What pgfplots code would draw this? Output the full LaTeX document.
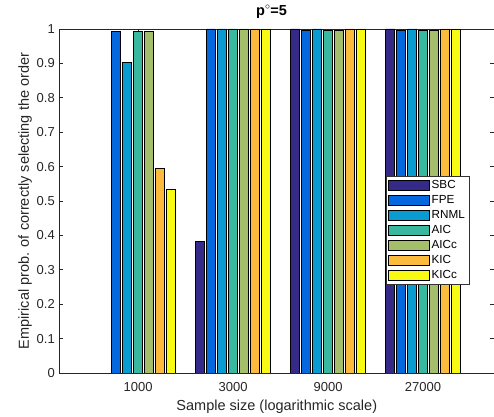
\documentclass[border=0pt]{standalone}
\usepackage{fontspec}
\setmainfont{Liberation Sans}
\usepackage{pgfplots}
\pgfplotsset{compat=1.18}
\definecolor{cSBC}{RGB}{53,42,135}
\definecolor{cFPE}{RGB}{5,104,222}
\definecolor{cRNML}{RGB}{10,155,208}
\definecolor{cAIC}{RGB}{56,184,158}
\definecolor{cAICc}{RGB}{165,190,107}
\definecolor{cKIC}{RGB}{252,187,61}
\definecolor{cKICc}{RGB}{249,250,19}
\begin{document}
\begin{tikzpicture}
\begin{axis}[
  at={(0,0)}, anchor=south west,
  scale only axis, width=435bp, height=344bp,
  xmin=-0.83, xmax=3.75, ymin=0, ymax=1,
  xtick={0,1,2,3}, xticklabels={1000,3000,9000,27000},
  ytick={0,0.1,0.2,0.3,0.4,0.5,0.6,0.7,0.8,0.9,1},
  yticklabels={0,0.1,0.2,0.3,0.4,0.5,0.6,0.7,0.8,0.9,1},
  tick align=inside, major tick length=4bp,
  axis line style={line width=0.6pt, black!85},
  tick style={line width=0.6pt, black!85},
  tick label style={font=\fontsize{13bp}{15bp}\selectfont, text=black!85},
  xticklabel style={yshift=-6bp},
  yticklabel style={xshift=-1bp},
  label style={font=\fontsize{14.5bp}{17bp}\selectfont, text=black!85},
  xlabel={Sample size (logarithmic scale)},
  ylabel={Empirical prob. of correctly selecting the order},
  xlabel style={yshift=-1bp},
  ylabel style={yshift=-2bp},
  title={\textbf{p$^{\circ}$=5}},
  title style={font=\fontsize{14.5bp}{17bp}\selectfont, at={(0.488,1)}, anchor=base, yshift=8bp},
  bar width=0.095,
  legend style={at={(0.942,0.573)}, anchor=north east, draw=black!80, line width=0.5pt,
    font=\fontsize{11.7bp}{14bp}\selectfont, inner xsep=2bp, inner ysep=2bp,
    nodes={inner ysep=1bp, text height=9bp, text depth=3bp}, row sep=1bp},
  legend cell align=left,
  legend image code/.code={\draw[#1, line width=0.6pt] (0bp,-5bp) rectangle (41bp,5bp);},
]
\addplot[ybar, bar shift=-0.348, fill=cSBC, draw=black, line width=0.6pt] coordinates {(0,0) (1,0.382) (2,1) (3,1)};
\addplot[ybar, bar shift=-0.232, fill=cFPE, draw=black, line width=0.6pt] coordinates {(0,0.993) (1,1) (2,0.996) (3,0.996)};
\addplot[ybar, bar shift=-0.116, fill=cRNML, draw=black, line width=0.6pt] coordinates {(0,0.903) (1,1) (2,1) (3,1)};
\addplot[ybar, bar shift=0, fill=cAIC, draw=black, line width=0.6pt] coordinates {(0,0.992) (1,1) (2,0.996) (3,0.996)};
\addplot[ybar, bar shift=0.116, fill=cAICc, draw=black, line width=0.6pt] coordinates {(0,0.992) (1,1) (2,0.996) (3,0.996)};
\addplot[ybar, bar shift=0.232, fill=cKIC, draw=black, line width=0.6pt] coordinates {(0,0.595) (1,1) (2,1) (3,1)};
\addplot[ybar, bar shift=0.348, fill=cKICc, draw=black, line width=0.6pt] coordinates {(0,0.534) (1,1) (2,1) (3,1)};
\legend{SBC,FPE,RNML,AIC,AICc,KIC,KICc}
\end{axis}
\pgfresetboundingbox
\useasboundingbox (-59.3bp,-44bp) rectangle (434.7bp,373bp);
\end{tikzpicture}
\end{document}
